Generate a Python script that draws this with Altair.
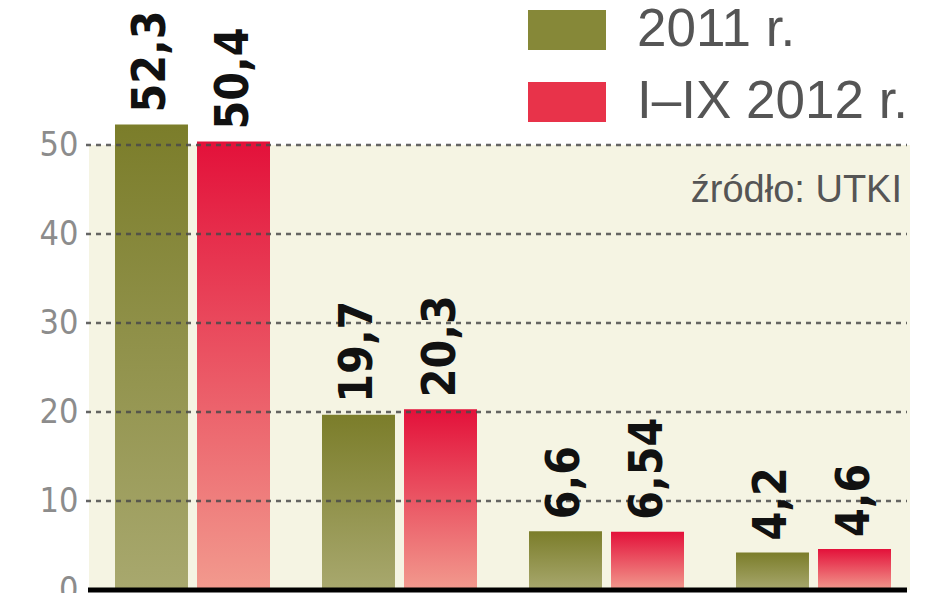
import altair as alt
import pandas as pd

categories = ["Przewoźnik A", "Przewoźnik B", "Przewoźnik C", "Przewoźnik D"]
series_names = ["2011 r.", "I–IX 2012 r."]
values_2011 = [52.3, 19.7, 6.6, 4.2]
values_2012 = [50.4, 20.3, 6.54, 4.6]
y_ticks = [0, 10, 20, 30, 40, 50]
grid_values = [10, 20, 30, 40, 50]
source_note = ["źródło: UTKI"]

rows = []
for c, a, b in zip(categories, values_2011, values_2012):
    rows.append({"category": c, "series": series_names[0], "value": a})
    rows.append({"category": c, "series": series_names[1], "value": b})
df = pd.DataFrame(rows)

W, H = 828, 582
GRID_END = 818
COND = "DejaVu Sans Condensed, sans-serif"

grad_olive = {"gradient": "linear", "x1": 0, "y1": 0, "x2": 0, "y2": 1,
              "stops": [{"offset": 0, "color": "#7b7d2a"}, {"offset": 1, "color": "#a8a86e"}]}
grad_red = {"gradient": "linear", "x1": 0, "y1": 0, "x2": 0, "y2": 1,
            "stops": [{"offset": 0, "color": "#e3113a"}, {"offset": 1, "color": "#f29a8e"}]}

y_scale = alt.Scale(domain=[0, 65.4], nice=False, zero=True)
y_axis = alt.Axis(values=y_ticks, title=None, domain=False, ticks=False, grid=False,
                  labelFont=COND, labelFontSize=34, labelColor="#8c8c8c",
                  labelPadding=11)

x_enc = alt.X("category:N", sort=categories,
              scale=alt.Scale(paddingInner=0, paddingOuter=0), axis=None)
xo_enc = alt.XOffset("series:N", sort=series_names,
                     scale=alt.Scale(paddingInner=0.11, paddingOuter=0.317))

bg_df = pd.DataFrame({"lo": [0], "hi": [50]})
background = alt.Chart(bg_df).mark_rect(color="#f5f4e3").encode(
    x=alt.value(0), x2=alt.value(GRID_END + 3),
    y=alt.Y("lo:Q", scale=y_scale, axis=y_axis), y2="hi:Q")

bars = alt.Chart(df).mark_bar().encode(
    x=x_enc, xOffset=xo_enc,
    y=alt.Y("value:Q", scale=y_scale, axis=y_axis),
    color=alt.Color("series:N", sort=series_names,
                    scale=alt.Scale(domain=series_names, range=["#868838", "#e8334a"]),
                    condition=[{"test": f"datum.series === '{series_names[0]}'", "value": grad_olive},
                               {"test": f"datum.series === '{series_names[1]}'", "value": grad_red}],
                    legend=alt.Legend(title=None, orient="none", legendX=439, legendY=-17,
                                      symbolType="M-1,-0.513H1V0.513H-1Z", symbolSize=6084,
                                      symbolStrokeWidth=0, labelFontSize=53,
                                      labelFont="Liberation Sans, sans-serif", labelColor="#555555",
                                      labelOffset=31, rowPadding=6, padding=0, labelLimit=500)))

grid = alt.Chart(pd.DataFrame({"g": grid_values})).mark_rule(
    color="#4a4a4a", strokeWidth=2.5, strokeDash=[5, 5], opacity=0.85).encode(
    x=alt.value(-3), x2=alt.value(GRID_END),
    y=alt.Y("g:Q", scale=y_scale, axis=y_axis))

labels = alt.Chart(df).transform_calculate(
    label="replace(toString(datum.value), '.', ',')"
).mark_text(angle=270, align="left", baseline="middle", dx=12, font=COND,
            fontSize=46, fontWeight="bold", color="#111111").encode(
    x=x_enc, xOffset=xo_enc,
    y=alt.Y("value:Q", scale=y_scale, axis=y_axis),
    text="label:N")

zero_df = pd.DataFrame({"zero": [0]})
baseline = alt.Chart(zero_df).mark_rule(color="#000000", strokeWidth=5).encode(
    x=alt.value(-1), x2=alt.value(GRID_END),
    y=alt.Y("zero:Q", scale=y_scale, axis=y_axis))

note = alt.Chart(pd.DataFrame({"note": source_note})).mark_text(
    align="right", baseline="alphabetic", fontSize=38, font="Liberation Sans, sans-serif",
    color="#555555").encode(x=alt.value(813), y=alt.value(194), text="note:N")

chart = alt.layer(background, bars, grid, labels, baseline, note).properties(
    width=W, height=H,
    background="white",
    autosize=alt.AutoSizeParams(type="none"),
    padding={"left": 81, "top": 0, "right": 23, "bottom": 10},
).configure_view(stroke=None, strokeWidth=0)

chart.save("out.html", embed_options={"renderer": "svg", "actions": False})
